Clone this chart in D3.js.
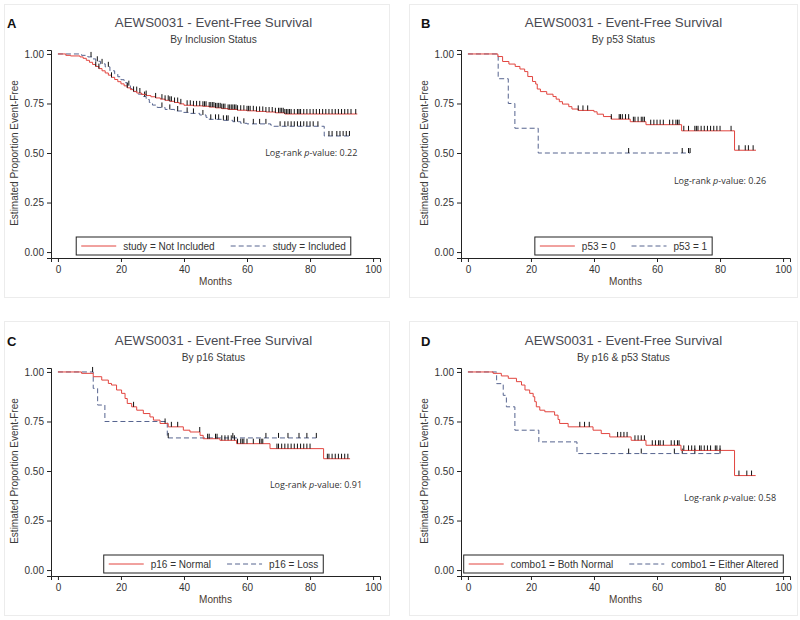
<!DOCTYPE html>
<html><head><meta charset="utf-8">
<script src="https://cdn.jsdelivr.net/npm/d3@7"></script>
<style>body{margin:0;background:#fff}svg{display:block}</style>
</head><body>
<svg id="c" width="800" height="620"></svg>
<script>
// ---------------- data ----------------
const xTicks = [0, 20, 40, 60, 80, 100];
const yTicks = [0, 0.25, 0.5, 0.75, 1];
const panelLetters = ["A", "B", "C", "D"];
const mainTitle = "AEWS0031 - Event-Free Survival";
const subTitles = ["By Inclusion Status", "By p53 Status", "By p16 Status", "By p16 & p53 Status"];
const legendRed = ["study = Not Included", "p53 = 0", "p16 = Normal", "combo1 = Both Normal"];
const legendBlue = ["study = Included", "p53 = 1", "p16 = Loss", "combo1 = Either Altered"];
const pValues = ["0.22", "0.26", "0.91", "0.58"];

// Panel A
const aRedSteps = [[0,1],[2.5,0.993],[4,0.99],[7,0.985],[8,0.978],[9,0.968],[10,0.958],[11,0.947],[12,0.937],[13,0.926],[14,0.915],[15,0.904],[16,0.893],[17,0.882],[18,0.871],[19,0.86],[20,0.849],[21,0.839],[22,0.829],[23,0.82],[24,0.811],[25,0.803],[26.5,0.796],[28,0.79],[29.5,0.784],[31,0.778],[32.5,0.772],[34,0.766],[35.5,0.761],[37,0.755],[38.5,0.748],[40,0.741],[43,0.738],[46,0.736],[48,0.732],[50,0.728],[52,0.724],[54,0.72],[57,0.716],[60,0.713],[63,0.71],[66,0.707],[69,0.703],[72,0.697]];
const aRedEnd = 95;
const aRedCens = [12,13,17,22,24,26,28,31,33,34,35,35.5,36,37,38,39,41,42,43,44,45,46,46.5,47,48,48.5,49,49.5,50,50.5,51,51.5,52,52.5,53,54,54.5,55,55.5,56,56.5,57,58,59,60,60.5,61,62,63,64,65,66,67,68,69,70,70.5,71,71.5,72,72.5,73,73.5,74,75,76,76.5,77,78,79,80,81,82,83,84,85,86,87,88,89,90,91,92,93,94.5];
const aBlueSteps = [[0,1],[7.5,0.993],[9.5,0.985],[11,0.975],[12,0.963],[13.5,0.95],[15,0.935],[16.5,0.915],[18,0.9],[19,0.885],[20,0.87],[21,0.855],[22,0.84],[23,0.825],[24,0.81],[25.5,0.797],[27,0.785],[28,0.77],[29,0.755],[30,0.742],[31.5,0.73],[34,0.72],[37,0.712],[39.5,0.705],[42,0.7],[45,0.692],[47,0.68],[48,0.67],[52,0.665],[55.5,0.658],[58,0.65],[60,0.647],[67.5,0.641],[68.5,0.635],[84.5,0.586]];
const aBlueEnd = 92.5;
const aBlueCens = [10.5,12.5,14,16,22.5,25,27.5,33,35.5,38,41,43,46,48.5,50,51,52.5,53.5,54,56,57,59,62,64,66,70.5,72,73,74,75,76,77,78,79,80,81,82.5,86,87,88.5,89.5,90.5,91.5,92.5];

// Panel B
const bRedSteps = [[0,1],[9.5,0.987],[11,0.962],[13,0.949],[15,0.937],[16.5,0.924],[18,0.911],[19,0.886],[20.5,0.861],[21.5,0.848],[22,0.823],[23,0.81],[25,0.797],[27,0.785],[28,0.772],[29,0.759],[30,0.747],[32,0.734],[33,0.722],[35,0.715],[40,0.708],[41,0.696],[43,0.684],[45.5,0.671],[51.5,0.658],[56.5,0.643],[67.8,0.612],[84.6,0.514]];
const bRedEnd = 91.4;
const bRedCens = [35,36.5,38,45.5,48,48.4,49,50,51,52.5,53,54,55,55.5,56,58,59,60,61,62,64,65,66,66.5,67,68.5,70,72,72.5,73,74,75,76,77,78,79,80,83.5,86,88,89,90.5];
const bBlueSteps = [[0,1],[9.6,0.875],[12.8,0.75],[14.9,0.625],[22.3,0.5]];
const bBlueEnd = 70.5;
const bBlueCens = [51,68,70,70.5];

// Panel C
const cRedSteps = [[0,1],[7.5,0.993],[11.2,0.976],[13.9,0.959],[16,0.942],[17,0.934],[18.6,0.909],[20.2,0.892],[21.3,0.866],[22,0.841],[23.4,0.824],[25,0.807],[27.1,0.79],[29.2,0.773],[30.3,0.757],[32.4,0.74],[35,0.723],[39.8,0.706],[41.9,0.697],[45.1,0.68],[46.1,0.663],[51.4,0.655],[56.7,0.638],[67.3,0.613],[84.3,0.562]];
const cRedEnd = 92.7;
const cRedCens = [24,34,36,38,45,47.5,48,50,50.5,52,53,54,55,56,57,58,58.5,59,60,62,64,64.5,65,69.5,70,71,72,73,74,75,76,77,78,79,80,85.5,86,87,88,89,90,91,92];
const cBlueSteps = [[0,1],[11.2,0.917],[12.6,0.833],[14.9,0.75],[34.7,0.667]];
const cBlueEnd = 82;
const cBlueCens = [11,35,55.5,66,70,73,76.5,79,82];

// Panel D
const dRedSteps = [[0,1],[8,0.993],[10.6,0.98],[12.8,0.968],[15.4,0.951],[17,0.934],[18.1,0.909],[19.6,0.892],[20.7,0.875],[21.2,0.85],[21.7,0.824],[22.8,0.807],[24.4,0.799],[27.5,0.782],[28.6,0.76],[29.1,0.74],[31.8,0.723],[39.7,0.706],[42.3,0.689],[45,0.672],[51.8,0.655],[56.5,0.63],[67.6,0.604],[84.6,0.477]];
const dRedEnd = 91.3;
const dRedCens = [35.5,37,38.5,47.5,48.5,49.5,50.5,53,54,55,56,58.5,59.5,60.5,61,62,64.5,65.5,66.5,67,68.5,70,71,72,73.5,74,75,76,77,78.5,79,80,86,88.5,90];
const dBlueSteps = [[0,1],[9.1,0.941],[11.2,0.882],[12.2,0.824],[14.9,0.706],[22.5,0.647],[34.6,0.588]];
const dBlueEnd = 80.5;
const dBlueCens = [51,55,65.5,68,72,80];

// ---------------- layout ----------------
const panels = [
  {ox:51, oy:50, red:[aRedSteps,aRedEnd,aRedCens], blue:[aBlueSteps,aBlueEnd,aBlueCens], pv:{x:95, y:0.5}},
  {ox:461, oy:50, red:[bRedSteps,bRedEnd,bRedCens], blue:[bBlueSteps,bBlueEnd,bBlueCens], pv:{x:94.6, y:0.36}},
  {ox:51, oy:368, red:[cRedSteps,cRedEnd,cRedCens], blue:[cBlueSteps,cBlueEnd,cBlueCens], pv:{x:96.5, y:0.43}},
  {ox:461, oy:368, red:[dRedSteps,dRedEnd,dRedCens], blue:[dBlueSteps,dBlueEnd,dBlueCens], pv:{x:97.8, y:0.365}}
];
const frames = [[4,4,385,293],[409,4,388,293],[4,321,385,294],[409,321,388,294]];
const W = 329, H = 208;
const RED = "#e2453f", BLUE = "#56648f";
const FONT = "'Liberation Sans', Arial, sans-serif";

const svg = d3.select("#c");

frames.forEach(f => svg.append("rect").attr("x", f[0]+0.5).attr("y", f[1]+0.5)
  .attr("width", f[2]).attr("height", f[3]).attr("fill", "none").attr("stroke", "#ececec"));

panels.forEach((p, i) => {
  const g = svg.append("g").attr("transform", `translate(${p.ox},${p.oy})`);
  const x = d3.scaleLinear().domain([-2.2, 102.2]).range([0, W]);
  const y = d3.scaleLinear().domain([-0.03, 1.02]).range([H, 0]);

  const xa = g.append("g").attr("transform", `translate(0,${H})`)
    .call(d3.axisBottom(x).tickValues(xTicks).tickSizeOuter(0).tickSize(4).tickPadding(4).tickFormat(d3.format("d")));
  const ya = g.append("g")
    .call(d3.axisLeft(y).tickValues(yTicks).tickSizeOuter(0).tickSize(4).tickPadding(3).tickFormat(d3.format(".2f")));
  [xa, ya].forEach(a => {
    a.selectAll("text").attr("font-family", FONT).attr("font-size", 10).attr("fill", "#333");
    a.selectAll("line,path").attr("stroke", "#222");
  });

  g.append("text").attr("x", x(50)).attr("y", H + 27).attr("text-anchor", "middle")
    .attr("font-family", FONT).attr("font-size", 10).attr("fill", "#4a3a30").text("Months");
  g.append("text").attr("transform", `translate(-33,${y(0.5)}) rotate(-90)`).attr("text-anchor", "middle")
    .attr("font-family", FONT).attr("font-size", 10).attr("fill", "#3a3a3a").text("Estimated Proportion Event-Free");

  g.append("text").attr("x", W/2 - 2).attr("y", -23).attr("text-anchor", "middle")
    .attr("font-family", FONT).attr("font-size", 13.3).attr("fill", "#4a4a52").text(mainTitle);
  g.append("text").attr("x", W/2 - 2).attr("y", -7).attr("text-anchor", "middle")
    .attr("font-family", FONT).attr("font-size", 10.2).attr("fill", "#3a3a3a").text(subTitles[i]);

  g.append("text").attr("x", i % 2 === 0 ? -44 : -40).attr("y", -22)
    .attr("font-family", FONT).attr("font-weight", "bold").attr("font-size", 13).attr("fill", "#111").text(panelLetters[i]);

  const line = d3.line().x(d => x(d[0])).y(d => y(d[1])).curve(d3.curveStepAfter);
  function drawCurve(spec, color, dash) {
    const [steps, end, cens] = spec;
    const pts = steps.concat([[end, steps[steps.length - 1][1]]]);
    g.append("path").attr("d", line(pts)).attr("fill", "none").attr("stroke", color)
      .attr("stroke-width", 1).attr("stroke-dasharray", dash);
    const survAt = t => { let v = 1; steps.forEach(s => { if (s[0] <= t) v = s[1]; }); return v; };
    g.append("g").selectAll("line").data(cens).join("line")
      .attr("x1", d => x(d)).attr("x2", d => x(d))
      .attr("y1", d => y(survAt(d)) - 5).attr("y2", d => y(survAt(d)))
      .attr("stroke", "#111").attr("stroke-width", 1);
  }
  drawCurve(p.blue, BLUE, "5,3");
  drawCurve(p.red, RED, null);

  // p-value label
  const pv = g.append("text").attr("x", x(p.pv.x)).attr("y", y(p.pv.y) + 3).attr("text-anchor", "end")
    .attr("font-family", "'Open Sans', sans-serif").attr("font-size", 9).attr("fill", "#333");
  pv.append("tspan").text("Log-rank ");
  pv.append("tspan").attr("font-style", "italic").text("p");
  pv.append("tspan").text("-value: " + pValues[i]);

  // legend
  const lg = g.append("g");
  const t1 = lg.append("text").attr("font-family", FONT).attr("font-size", 10).attr("fill", "#333").text(legendRed[i]);
  const t2 = lg.append("text").attr("font-family", FONT).attr("font-size", 10).attr("fill", "#333").text(legendBlue[i]);
  const w1 = t1.node().getComputedTextLength(), w2 = t2.node().getComputedTextLength();
  const pad = 5, ll = 35, gap = 7, mid = 16;
  const lw = pad + ll + gap + w1 + mid + ll + gap + w2 + pad;
  const lx = W/2 - 2 - lw/2, ly = 187, lh = 18;
  lg.insert("rect", "text").attr("x", lx).attr("y", ly).attr("width", lw).attr("height", lh)
    .attr("fill", "#fff").attr("stroke", "#222").attr("stroke-width", 1);
  const cy = ly + lh/2;
  lg.append("line").attr("x1", lx + pad).attr("x2", lx + pad + ll).attr("y1", cy).attr("y2", cy).attr("stroke", RED);
  t1.attr("x", lx + pad + ll + gap).attr("y", cy + 3.5);
  const x2 = lx + pad + ll + gap + w1 + mid;
  lg.append("line").attr("x1", x2).attr("x2", x2 + ll).attr("y1", cy).attr("y2", cy).attr("stroke", BLUE).attr("stroke-dasharray", "5,3");
  t2.attr("x", x2 + ll + gap).attr("y", cy + 3.5);
});
</script>
</body></html>
